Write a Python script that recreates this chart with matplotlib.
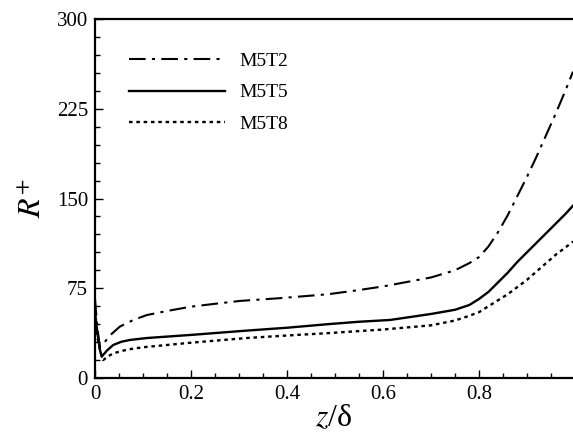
"""R+ profiles along z/delta for three cases."""

import matplotlib

matplotlib.use("Agg")
from matplotlib import pyplot as plt  # noqa: E402
from matplotlib.ticker import MultipleLocator  # noqa: E402

plt.rcParams["font.family"] = ["Liberation Serif", "DejaVu Serif"]
plt.rcParams["mathtext.fontset"] = "stix"

z_t2 = [0.0, 0.004, 0.008, 0.0104, 0.02, 0.035, 0.052, 0.08, 0.108, 0.15, 0.2, 0.25, 0.302,
        0.385, 0.486, 0.55, 0.6, 0.7, 0.75, 0.78, 0.8, 0.82, 0.84, 0.86, 0.88, 0.9, 0.92,
        0.94, 0.96, 0.98, 0.996]
r_t2 = [66.0, 46.0, 32.0, 26.0, 30.0, 37.0, 43.0, 48.5, 52.6, 56.0, 59.6, 62.0, 64.4,
        66.7, 70.0, 73.5, 76.5, 84.0, 90.0, 96.0, 101.0, 110.0, 122.0, 136.0, 152.0, 168.0, 185.0,
        203.0, 221.0, 240.0, 256.0]

z_t5 = [0.0, 0.005, 0.01, 0.014, 0.025, 0.038, 0.055, 0.073, 0.108, 0.15, 0.2, 0.316,
        0.4, 0.486, 0.55, 0.615, 0.7, 0.75, 0.78, 0.8, 0.82, 0.84, 0.86, 0.88, 0.9, 0.92,
        0.94, 0.96, 0.98, 0.996]
r_t5 = [55.0, 38.0, 24.0, 17.8, 23.0, 27.6, 30.3, 31.8, 33.4, 34.6, 36.0, 39.6,
        42.0, 45.0, 47.0, 48.5, 53.5, 57.0, 61.0, 66.0, 72.0, 80.0, 88.0, 97.0, 105.0, 113.0,
        121.0, 129.0, 137.0, 144.0]

z_t8 = [0.0, 0.006, 0.012, 0.017, 0.027, 0.038, 0.06, 0.08, 0.108, 0.15, 0.2, 0.316,
        0.4, 0.486, 0.6, 0.7, 0.75, 0.78, 0.8, 0.82, 0.84, 0.86, 0.88, 0.9, 0.92,
        0.94, 0.96, 0.98, 0.996]
r_t8 = [45.0, 32.0, 21.0, 15.0, 18.0, 20.6, 23.0, 24.6, 26.0, 27.6, 29.5, 33.4,
        35.5, 37.5, 40.5, 44.0, 48.0, 52.0, 55.0, 60.0, 65.0, 70.0, 76.0, 82.0, 89.0,
        96.0, 103.0, 109.0, 114.0]

fig = plt.figure(figsize=(5.73, 4.38), dpi=100)
ax = fig.add_axes([0.1658, 0.137, 0.8342, 0.8196])

ax.plot(z_t2, r_t2, color="black", lw=1.5, dashes=(8, 3, 1.5, 3), label="M5T2")
ax.plot(z_t5, r_t5, color="black", lw=1.7, ls="-", label="M5T5")
ax.plot(z_t8, r_t8, color="black", lw=1.7, dashes=(1.5, 1.6), label="M5T8")

ax.set_xlim(0, 0.996)
ax.set_ylim(0, 300)
ax.xaxis.set_minor_locator(MultipleLocator(0.05))
ax.yaxis.set_major_locator(MultipleLocator(75))
ax.yaxis.set_minor_locator(MultipleLocator(15))
ax.set_xticks([0, 0.2, 0.4, 0.6, 0.8])
ax.set_xticklabels(["0", "0.2", "0.4", "0.6", "0.8"])
ax.tick_params(which="both", direction="in", labelsize=15, width=1.0, top=False, right=False)
ax.tick_params(which="major", length=6, pad=5)
ax.tick_params(which="minor", length=3.5)
for side in ("left", "bottom", "top"):
    ax.spines[side].set_linewidth(1.6)
ax.spines["right"].set_visible(False)

ax.set_xlabel(r"$z$/δ", fontsize=23, labelpad=0)
ax.set_ylabel(r"$R^{+}$", fontsize=23, labelpad=6)

ax.legend(loc="upper left", bbox_to_anchor=(0.035, 0.955), frameon=False, fontsize=14,
          handlelength=4.9, handletextpad=0.75, labelspacing=0.7)

fig.savefig("out.png", dpi=100)
